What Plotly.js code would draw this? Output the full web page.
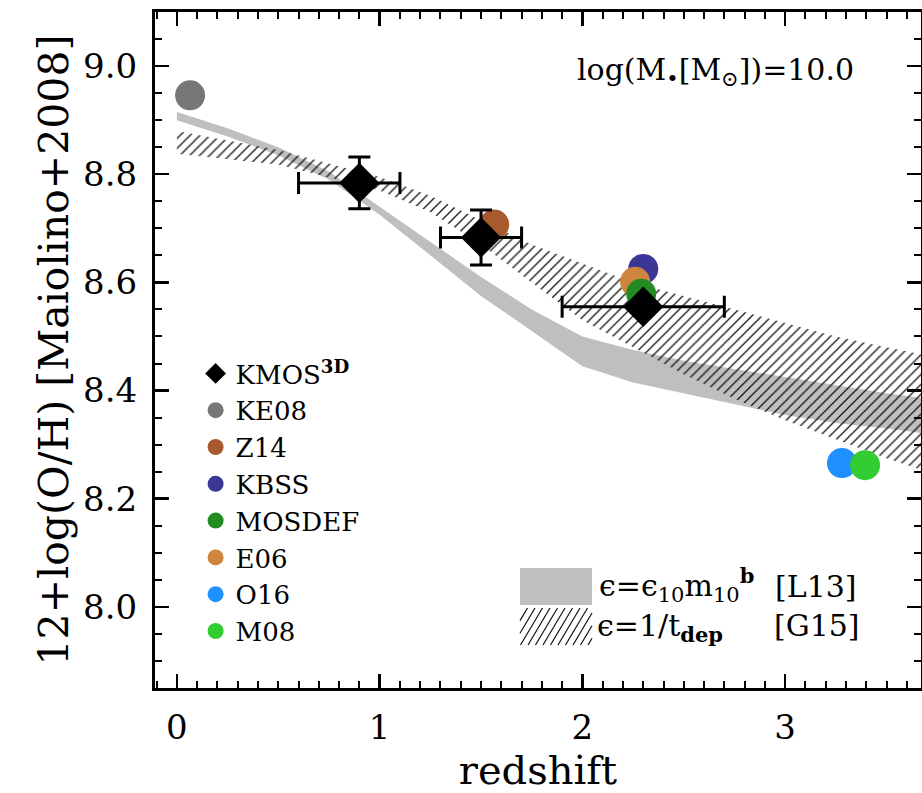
<!DOCTYPE html>
<html>
<head>
<meta charset="utf-8">
<script src="https://cdn.plot.ly/plotly-3.0.1.min.js"></script>
<style>
  html, body { margin: 0; padding: 0; background: #fff; }
  #chart { width: 922px; height: 793px; }
</style>
</head>
<body>
<div id="chart"></div>
<script>
// Gas-phase metallicity vs redshift at log(M*/Msun) = 10.0

// KMOS3D stacked measurements
const kmosZ = [0.9, 1.5, 2.3];
const kmosOH = [8.784, 8.683, 8.555];
const kmosZerrPlus = [0.2, 0.2, 0.4];
const kmosZerrMinus = [0.3, 0.2, 0.4];
const kmosOHerr = [0.048, 0.051, 0.0];

// Literature comparison samples (redshift, 12+log(O/H))
const ke08Z = [0.065], ke08OH = [8.946];
const z14Z = [1.565], z14OH = [8.707];
const kbssZ = [2.30], kbssOH = [8.625];
const e06Z = [2.26], e06OH = [8.601];
const mosdefZ = [2.29], mosdefOH = [8.579];
const o16Z = [3.28], o16OH = [8.266];
const m08Z = [3.394], m08OH = [8.262];

// Model band: epsilon = epsilon_10 m_10^b [L13]
const l13Z = [0, 0.25, 0.5, 0.75, 1.0, 1.25, 1.5, 1.75, 2.0, 2.25, 2.5, 2.75, 3.0, 3.25, 3.5, 3.7];
const l13Upper = [8.915, 8.885, 8.850, 8.805, 8.740, 8.675, 8.610, 8.550, 8.500, 8.475, 8.455, 8.440, 8.425, 8.410, 8.395, 8.385];
const l13Lower = [8.900, 8.870, 8.835, 8.790, 8.725, 8.650, 8.575, 8.510, 8.445, 8.415, 8.395, 8.375, 8.355, 8.340, 8.330, 8.320];

// Model band: epsilon = 1/t_dep [G15]
const g15Z = [0, 0.5, 1.0, 1.25, 1.5, 1.75, 2.0, 2.25, 2.5, 2.75, 3.0, 3.25, 3.5, 3.7];
const g15Upper = [8.880, 8.845, 8.795, 8.760, 8.715, 8.670, 8.635, 8.600, 8.575, 8.550, 8.525, 8.500, 8.480, 8.465];
const g15Lower = [8.838, 8.818, 8.770, 8.730, 8.670, 8.600, 8.530, 8.480, 8.430, 8.385, 8.345, 8.310, 8.275, 8.250];

const xTicks = [0, 1, 2, 3];
const yTicks = [8.0, 8.2, 8.4, 8.6, 8.8, 9.0];

const FONT = 'DejaVu Serif, Liberation Serif, serif';

// closed polygon from an upper and a lower edge
function band(xs, hi, lo) {
  return {
    x: xs.concat(xs.slice().reverse()),
    y: hi.concat(lo.slice().reverse())
  };
}

const l13Poly = band(l13Z, l13Upper, l13Lower);
const g15Poly = band(g15Z, g15Upper, g15Lower);

function sample(name, xs, ys, color, rank) {
  return {
    type: 'scatter', mode: 'markers', name: name, x: xs, y: ys,
    legendrank: rank, cliponaxis: false,
    marker: { symbol: 'circle', size: 30, color: color, line: { width: 0 } }
  };
}

const traces = [
  {
    type: 'scatter', mode: 'lines', x: l13Poly.x, y: l13Poly.y,
    fill: 'toself', fillcolor: '#bfbfbf', line: { width: 0 },
    showlegend: false, hoverinfo: 'skip'
  },
  {
    type: 'scatter', mode: 'lines', x: g15Poly.x, y: g15Poly.y,
    fill: 'toself', fillcolor: 'rgba(0,0,0,0)', line: { width: 0 },
    fillpattern: { shape: '/', fgcolor: '#111', bgcolor: 'rgba(0,0,0,0)', size: 7, solidity: 0.18 },
    showlegend: false, hoverinfo: 'skip'
  },
  sample('KE08', ke08Z, ke08OH, '#777777', 2),
  sample('Z14', z14Z, z14OH, '#a65a2e', 3),
  sample('KBSS', kbssZ, kbssOH, '#3c3796', 4),
  sample('E06', e06Z, e06OH, '#cd853f', 6),
  sample('MOSDEF', mosdefZ, mosdefOH, '#228b22', 5),
  sample('O16', o16Z, o16OH, '#1e90ff', 7),
  sample('M08', m08Z, m08OH, '#32cd32', 8),
  {
    type: 'scatter', mode: 'markers', name: 'KMOS<sup><b>3D</b></sup>',
    x: kmosZ, y: kmosOH, legendrank: 1,
    marker: { symbol: 'diamond', size: 31, color: 'black' },
    error_x: { type: 'data', symmetric: false, array: kmosZerrPlus, arrayminus: kmosZerrMinus,
               color: 'black', thickness: 3, width: 11 },
    error_y: { type: 'data', array: kmosOHerr, color: 'black', thickness: 3, width: 11 }
  }
];

// legend swatches for the two model bands (pixel offsets from an anchor)
const swW = 72, swH = 37;
let hatch = '';
for (let k = -4; k < 14; k++) {
  let xa = k * 7.5 - 22, ya = 0, xb = k * 7.5, yb = swH;
  const slope = (yb - ya) / (xb - xa);
  if (xa < 0) { ya = (0 - xa) * slope; xa = 0; }
  if (xb > swW) { yb = yb - (xb - swW) * slope; xb = swW; }
  if (xa >= xb) continue;
  hatch += 'M' + xa.toFixed(1) + ',' + ya.toFixed(1) + 'L' + xb.toFixed(1) + ',' + yb.toFixed(1);
}

const shapes = [
  { type: 'rect', xref: 'paper', yref: 'paper', x0: 0.4765, x1: 0.5705, y0: 0.1228, y1: 0.1775,
    fillcolor: '#bfbfbf', line: { width: 0 } },
  { type: 'path', xref: 'paper', yref: 'paper', xsizemode: 'pixel', ysizemode: 'pixel',
    xanchor: 0.4765, yanchor: 0.0636, path: hatch, line: { color: '#111', width: 1.2 } }
];

const annotations = [
  { xref: 'paper', yref: 'paper', x: 0.548, y: 0.912, xanchor: 'left', yanchor: 'middle',
    showarrow: false, text: 'log(M<sub>•</sub>[M<sub>⊙</sub>])=10.0',
    font: { family: FONT, size: 30, color: 'black' } },
  { xref: 'paper', yref: 'paper', x: 0.577, y: 0.152, xanchor: 'left', yanchor: 'middle',
    showarrow: false, text: 'ϵ=ϵ<sub>10</sub>m<sub>10</sub><sup><b>b</b></sup>',
    font: { family: FONT, size: 30, color: 'black' } },
  { xref: 'paper', yref: 'paper', x: 0.807, y: 0.150, xanchor: 'left', yanchor: 'middle',
    showarrow: false, text: '[L13]',
    font: { family: FONT, size: 30, color: 'black' } },
  { xref: 'paper', yref: 'paper', x: 0.574, y: 0.090, xanchor: 'left', yanchor: 'middle',
    showarrow: false, text: 'ϵ=1/t<sub><b>dep</b></sub>',
    font: { family: FONT, size: 30, color: 'black' } },
  { xref: 'paper', yref: 'paper', x: 0.806, y: 0.093, xanchor: 'left', yanchor: 'middle',
    showarrow: false, text: '[G15]',
    font: { family: FONT, size: 30, color: 'black' } }
];

const axisCommon = {
  showline: true, linewidth: 3, linecolor: 'black', mirror: 'ticks',
  ticks: 'inside', ticklen: 14, tickwidth: 2.5, tickcolor: 'black',
  showgrid: false, zeroline: false,
  tickfont: { family: FONT, size: 34, color: 'black' }
};

const layout = {
  width: 922, height: 793,
  margin: { l: 155, r: 1, t: 12, b: 105 },
  paper_bgcolor: 'white', plot_bgcolor: 'white',
  showlegend: true,
  legend: {
    x: 0.053, y: 0.5, xanchor: 'left', yanchor: 'top',
    bgcolor: 'rgba(0,0,0,0)', itemsizing: 'trace', tracegroupgap: 0,
    font: { family: FONT, size: 26, color: 'black' }
  },
  xaxis: Object.assign({}, axisCommon, {
    range: [-0.108, 3.67], tickmode: 'array', tickvals: xTicks, ticktext: xTicks.map(String),
    ticklabelstandoff: 7,
    minor: { dtick: 0.1, tick0: 0, ticks: 'inside', ticklen: 7, tickwidth: 2, tickcolor: 'black', showgrid: false },
    title: { text: 'redshift', font: { family: FONT, size: 40, color: 'black' }, standoff: 10 }
  }),
  yaxis: Object.assign({}, axisCommon, {
    range: [7.85, 9.1], tickmode: 'array', tickvals: yTicks, ticktext: yTicks.map(v => v.toFixed(1)),
    ticklabelstandoff: 8,
    minor: { dtick: 0.05, tick0: 8.0, ticks: 'inside', ticklen: 7, tickwidth: 2, tickcolor: 'black', showgrid: false },
    title: { text: '12+log(O/H) [Maiolino+2008]', font: { family: FONT, size: 41, color: 'black' }, standoff: 2 }
  }),
  shapes: shapes,
  annotations: annotations
};

Plotly.newPlot('chart', traces, layout, { displayModeBar: false, staticPlot: true });
</script>
</body>
</html>
